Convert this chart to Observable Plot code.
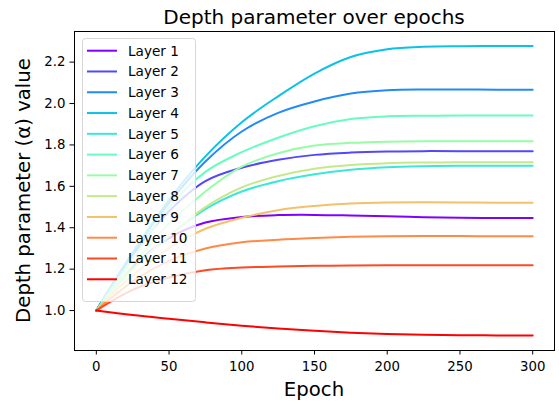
<!DOCTYPE html>
<html><head><meta charset="utf-8">
<script src="https://cdn.jsdelivr.net/npm/d3@7"></script>
<script src="https://cdn.jsdelivr.net/npm/@observablehq/plot@0.6"></script>
<style>body{margin:0;background:#fff;}</style>
</head><body><div id="chart"></div>
<script>
const epochs = [0, 25, 50, 75, 100, 125, 150, 175, 200, 225, 250, 275, 300];
const layerNames = ["Layer 1","Layer 2","Layer 3","Layer 4","Layer 5","Layer 6","Layer 7","Layer 8","Layer 9","Layer 10","Layer 11","Layer 12"];
const layer1  = [1.0, 1.21, 1.35, 1.425, 1.452, 1.461, 1.462, 1.459, 1.455, 1.451, 1.448, 1.447, 1.447];
const layer2  = [1.0, 1.27, 1.48, 1.625, 1.69, 1.728, 1.752, 1.763, 1.768, 1.77, 1.77, 1.77, 1.77];
const layer3  = [1.0, 1.28, 1.52, 1.72, 1.865, 1.955, 2.01, 2.048, 2.064, 2.068, 2.068, 2.067, 2.067];
const layer4  = [1.0, 1.28, 1.535, 1.745, 1.91, 2.035, 2.145, 2.225, 2.262, 2.274, 2.277, 2.278, 2.278];
const layer5  = [1.0, 1.2, 1.36, 1.49, 1.575, 1.625, 1.658, 1.68, 1.692, 1.697, 1.699, 1.7, 1.7];
const layer6  = [1.0, 1.25, 1.50, 1.67, 1.765, 1.835, 1.89, 1.925, 1.938, 1.941, 1.942, 1.942, 1.942];
const layer7  = [1.0, 1.22, 1.42, 1.575, 1.695, 1.76, 1.797, 1.81, 1.816, 1.818, 1.818, 1.818, 1.818];
const layer8  = [1.0, 1.2, 1.36, 1.50, 1.595, 1.65, 1.685, 1.703, 1.712, 1.715, 1.716, 1.716, 1.716];
const layer9  = [1.0, 1.17, 1.30, 1.395, 1.448, 1.485, 1.505, 1.517, 1.522, 1.523, 1.522, 1.521, 1.521];
const layer10 = [1.0, 1.14, 1.24, 1.30, 1.33, 1.342, 1.35, 1.356, 1.359, 1.36, 1.36, 1.359, 1.359];
const layer11 = [1.0, 1.1, 1.16, 1.195, 1.208, 1.213, 1.216, 1.218, 1.219, 1.219, 1.219, 1.219, 1.219];
const layer12 = [1.0, 0.978, 0.96, 0.943, 0.927, 0.913, 0.902, 0.893, 0.887, 0.883, 0.881, 0.88, 0.879];
const layerColors = ["#8000ff","#5148fc","#238af5","#0cc1e8","#3ae8d7","#68fcc1","#97fca7","#c5e88a","#f3c16a","#ff8a48","#ff4824","#ff0000"];
const xTicks = [0, 50, 100, 150, 200, 250, 300];
const yTicks = [1.0, 1.2, 1.4, 1.6, 1.8, 2.0, 2.2];
const titleText = "Depth parameter over epochs";
const xLabel = "Epoch";
const yLabel = "Depth parameter (α) value";

const series = [layer1,layer2,layer3,layer4,layer5,layer6,layer7,layer8,layer9,layer10,layer11,layer12];
const rows = [];
series.forEach((vals, i) => vals.forEach((v, j) => rows.push({layer: layerNames[i], epoch: epochs[j], value: v})));

const W = 559, H = 405, ml = 74, mr = 5, mt = 31, mb = 55;
const chart = Plot.plot({
  width: W, height: H, marginLeft: ml, marginRight: mr, marginTop: mt, marginBottom: mb,
  style: {fontFamily: "DejaVu Sans", fontSize: "13.3px", color: "#000", background: "#fff", overflow: "visible"},
  x: {domain: [-15, 315], ticks: xTicks, label: null, tickSize: 4.5, tickPadding: 7},
  y: {domain: [0.807, 2.348], ticks: yTicks, label: null, tickFormat: d3.format(".1f"), tickSize: 4.5, tickPadding: 4.5},
  color: {domain: layerNames, range: layerColors},
  marks: [
    Plot.line(rows, {x: "epoch", y: "value", stroke: "layer", z: "layer", strokeWidth: 2, curve: "catmull-rom"}),
    Plot.frame({stroke: "#000", strokeWidth: 1})
  ]
});
document.getElementById("chart").appendChild(chart);

const svg = d3.select(chart);
const cx = ml + (W - ml - mr) / 2;
const cy = mt + (H - mt - mb) / 2;
svg.append("text").attr("x", cx).attr("y", 24).attr("text-anchor", "middle")
  .style("font-size", "20px").attr("fill", "#000").text(titleText);
svg.append("text").attr("x", cx).attr("y", 396).attr("text-anchor", "middle")
  .style("font-size", "19.7px").attr("fill", "#000").text(xLabel);
svg.append("text").attr("transform", `translate(30,${cy}) rotate(-90)`).attr("text-anchor", "middle")
  .style("font-size", "19.7px").attr("fill", "#000").text(yLabel);

const lg = svg.append("g");
lg.append("rect").attr("x", 82.5).attr("y", 38.5).attr("width", 113).attr("height", 263).attr("rx", 3)
  .attr("fill", "#fff").attr("fill-opacity", 0.8).attr("stroke", "#d6d6d6");
layerNames.forEach((name, i) => {
  const y = 50.7 + i * 20.78;
  lg.append("line").attr("x1", 87).attr("x2", 117).attr("y1", y).attr("y2", y)
    .attr("stroke", layerColors[i]).attr("stroke-width", 2);
  lg.append("text").attr("x", 128).attr("y", y).attr("dy", "0.36em")
    .attr("text-anchor", "start").style("text-anchor", "start")
    .style("font-size", "13.6px").attr("fill", "#000").text(name);
});
</script>
</body></html>
